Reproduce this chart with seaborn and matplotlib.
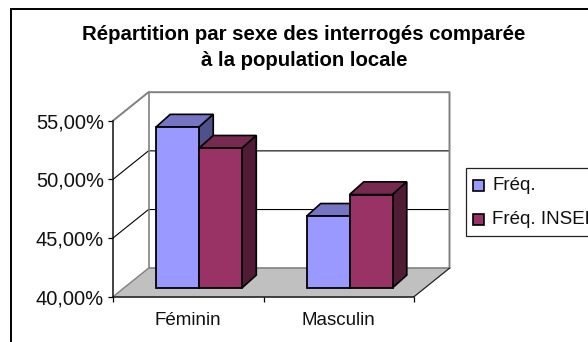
import matplotlib
matplotlib.use("Agg")
import matplotlib.pyplot as plt
from matplotlib.patches import Rectangle
import pandas as pd
import seaborn as sns

categories = ["Féminin", "Masculin"]
series_names = ["Fréq.", "Fréq. INSEE"]
freq = [53.7, 46.1]
freq_insee = [51.9, 47.95]
y_ticks = [40, 45, 50, 55]
y_labels = ["40,00%", "45,00%", "50,00%", "55,00%"]
title = "Répartition par sexe des interrogés comparée\nà la population locale"

W, H = 588, 342
df = pd.DataFrame({
    "cat": categories * 2,
    "serie": [series_names[0]] * 2 + [series_names[1]] * 2,
    "val": freq + freq_insee,
})

sns.set_theme(style="white")
plt.rcParams["font.family"] = ["Liberation Sans", "DejaVu Sans"]
fig = plt.figure(figsize=(W / 100, H / 100), dpi=100, facecolor="white")


def axes_px(l, t, r, b):
    return fig.add_axes([l / W, 1 - b / H, (r - l) / W, (b - t) / H])


# front plane of the 3D box
L, R, T, B = 113, 414, 120.7, 296.7
ax = axes_px(L, T, R, B)
ax.set_xlim(-0.5, 1.5)
ax.set_ylim(40, 55)
ax.patch.set_alpha(0)
px_x = (R - L) / 2
px_y = (B - T) / 15
wall_dx, wall_dy = 35.5 / px_x, 28.5 / px_y
gray = "#808080"

# floor, walls, gridlines
x0, x1 = -0.5, 1.5
ax.fill([x0, x1, x1 + wall_dx, x0 + wall_dx], [40, 40, 40 + wall_dy, 40 + wall_dy],
        color="#C0C0C0", lw=0, clip_on=False, zorder=1)
for yt in y_ticks[1:3]:
    ax.plot([x0, x0 + wall_dx, x1 + wall_dx], [yt, yt + wall_dy, yt + wall_dy],
            color="black", lw=0.8, clip_on=False, zorder=1.5)
ax.plot([x0, x0 + wall_dx, x1 + wall_dx, x1 + wall_dx],
        [55, 55 + wall_dy, 55 + wall_dy, 40 + wall_dy],
        color=gray, lw=1.4, clip_on=False, zorder=1.6)
ax.plot([x0 + wall_dx, x0 + wall_dx, x1 + wall_dx],
        [55 + wall_dy, 40 + wall_dy, 40 + wall_dy],
        color=gray, lw=1.2, clip_on=False, zorder=1.6)
ax.plot([x0, x0 + wall_dx], [40, 40 + wall_dy], color=gray, lw=1.0, clip_on=False, zorder=1.6)
ax.plot([x1, x1 + wall_dx], [40, 40 + wall_dy], color="#222222", lw=0.9, clip_on=False, zorder=1.6)

# axes
ax.set_xticks([-0.5, 0.5, 1.5])
ax.set_xticklabels([])
ax.set_yticks(y_ticks)
ax.set_yticklabels(y_labels, fontsize=14.5, color="#111111")
ax.tick_params(axis="both", length=3.8, width=0.9, color="black", bottom=True, left=True, pad=2.6)
for name, sp in ax.spines.items():
    sp.set_visible(name in ("left", "bottom"))
    sp.set_color("#111111")
    sp.set_linewidth(1.1)
for i, c in enumerate(categories):
    ax.text(i, 40 - 23.5 / px_y, c, ha="center", va="center", fontsize=13.5, color="#111111")

# bars: plane shifted into the floor
bx, by = 10.8, 8.9
ax_bar = axes_px(L + bx, T - by, R + bx, B - by)
ax_bar.patch.set_alpha(0)
sns.barplot(data=df, x="cat", y="val", hue="serie", hue_order=series_names, order=categories,
            palette=["#9999FF", "#993366"], width=0.572, gap=0, saturation=1,
            legend=False, ax=ax_bar, edgecolor="black", linewidth=1.3)
ax_bar.set_xlim(-0.5, 1.5)
ax_bar.set_ylim(40, 55)
ax_bar.axis("off")

shades = {"#9999FF": ("#7575C4", "#50508A"), "#993366": ("#772A50", "#4F1B35")}
depth_x, depth_y = 14.2 / px_x, 12.7 / px_y
bars = sorted([p for p in ax_bar.patches if p.get_width() > 0], key=lambda p: p.get_x())
for k, p in enumerate(bars):
    x, w, top = p.get_x(), p.get_width(), p.get_height()
    p.set_y(40)
    p.set_height(top - 40)
    p.set_clip_on(False)
    p.set_zorder(3 + k + 0.3)
    hexc = "#9999FF" if k % 2 == 0 else "#993366"
    top_c, side_c = shades[hexc]
    ax_bar.fill([x, x + w, x + w + depth_x, x + depth_x],
                [top, top, top + depth_y, top + depth_y],
                facecolor=top_c, edgecolor="black", lw=1.2, clip_on=False, zorder=3 + k + 0.1)
    ax_bar.fill([x + w, x + w + depth_x, x + w + depth_x, x + w],
                [40, 40 + depth_y, top + depth_y, top],
                facecolor=side_c, edgecolor="black", lw=1.2, clip_on=False, zorder=3 + k + 0.2)

# chart frame (only its top and left edges fall inside the picture)
frame = Rectangle((11 / W, 1 - (H + 20) / H), (W + 20) / W, (H + 20 - 8.5) / H,
                  transform=fig.transFigure, facecolor="none", edgecolor="black", lw=1.4,
                  clip_on=False)
fig.add_artist(frame)

fig.text(304 / W, 1 - 47.5 / H, title, ha="center", va="center", fontsize=14.7, fontweight="bold",
         color="black", linespacing=1.45)

# legend
fig.add_artist(Rectangle((465.5 / W, 1 - 235.5 / H), 140 / W, 68 / H, transform=fig.transFigure,
                         facecolor="white", edgecolor="#222222", lw=0.9))
for name, col, yy in zip(series_names, ["#9999FF", "#993366"], [185.8, 219.8]):
    fig.add_artist(Rectangle((473 / W, 1 - (yy + 5.5) / H), 11 / W, 11 / H,
                             transform=fig.transFigure,
                             facecolor=col, edgecolor="black", lw=1.2))
    fig.text(492 / W, 1 - yy / H, name, ha="left", va="center", fontsize=13.5, color="#111111")

fig.savefig("out.png", dpi=100)
